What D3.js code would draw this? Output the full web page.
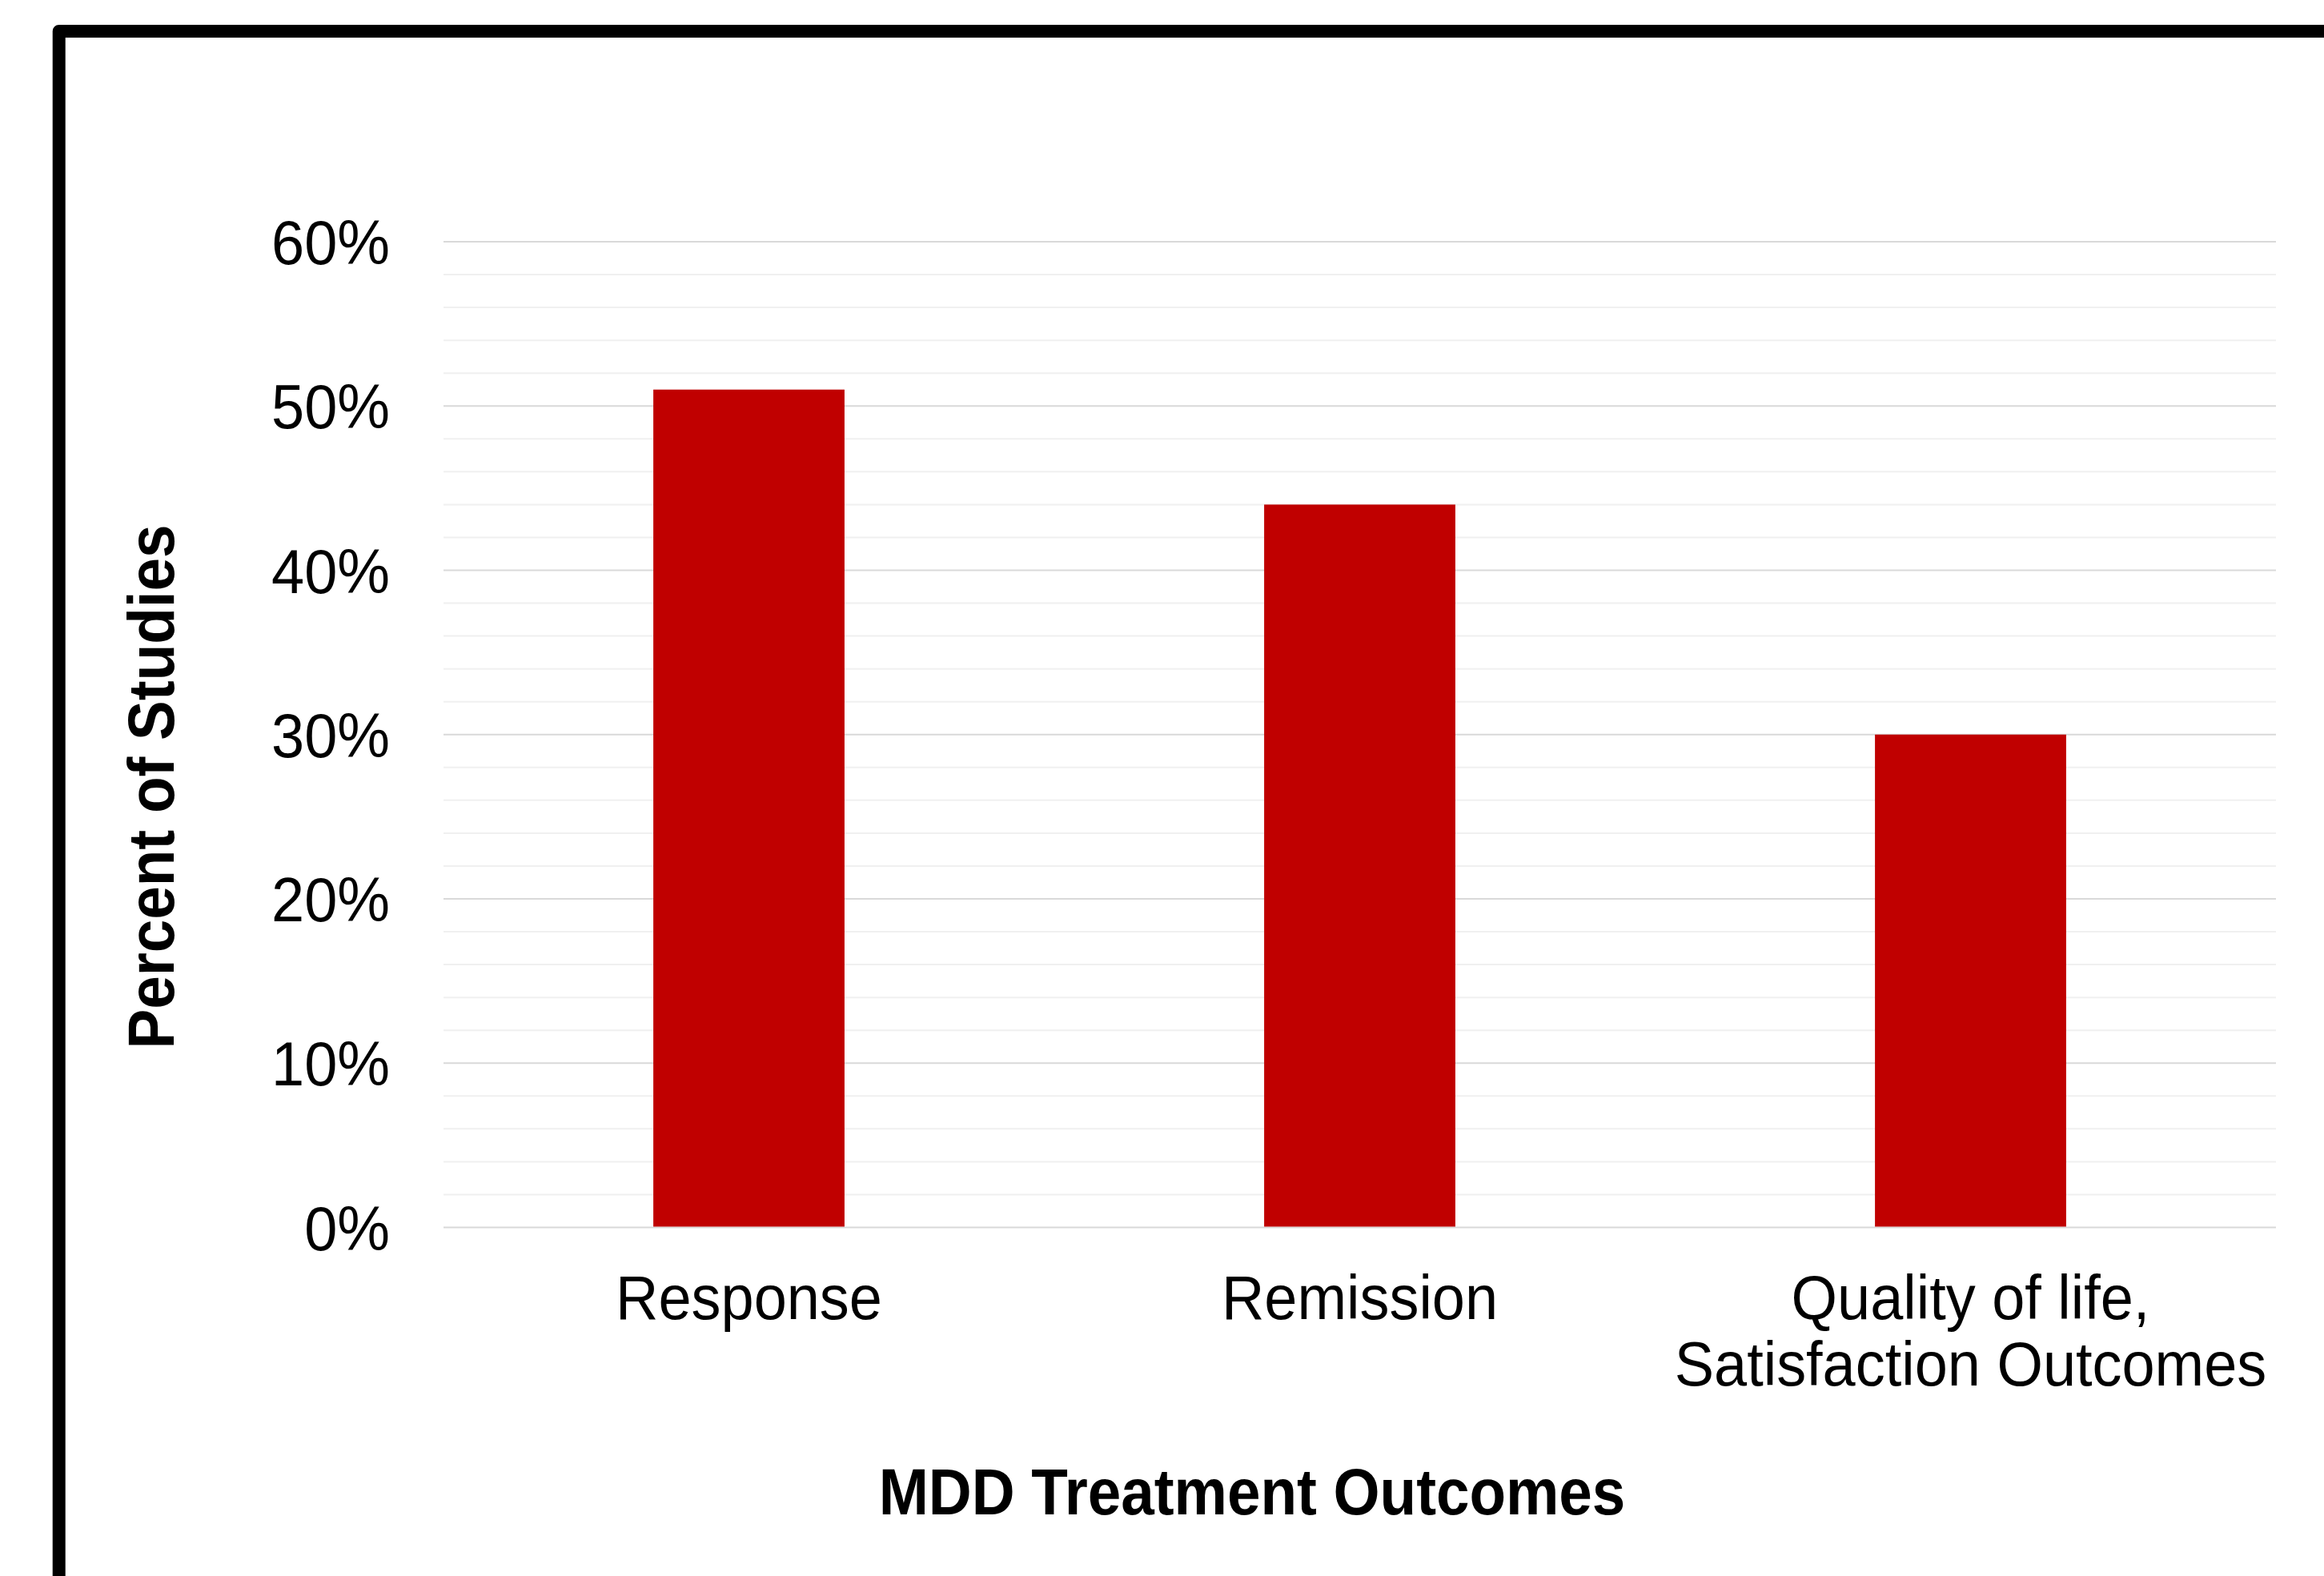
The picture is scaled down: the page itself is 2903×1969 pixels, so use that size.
<!DOCTYPE html>
<html>
<head>
<meta charset="utf-8">
<script src="https://cdn.jsdelivr.net/npm/d3@7"></script>
<style>
  html, body { margin: 0; padding: 0; background: #ffffff; }
  svg { display: block; }
  text { font-family: "Liberation Sans", Arial, sans-serif; fill: #000; }
</style>
</head>
<body>
<svg id="chart" width="2903" height="1969"></svg>
<script>
// Share of studies reporting each MDD treatment outcome
const categories = ["Response", "Remission", "Quality of life,\nSatisfaction Outcomes"];
const percentOfStudies = [0.51, 0.44, 0.30];
const majorTicks = [0, 0.1, 0.2, 0.3, 0.4, 0.5, 0.6];
const minorTicks = d3.range(0, 0.6001, 0.02);
const xTitle = "MDD Treatment Outcomes";
const yTitle = "Percent of Studies";

const W = 2903, H = 1969;
const plot = { left: 554, right: 2843, top: 302, bottom: 1533.5 };
const narrow = 0.96;       // horizontal squeeze of the regular labels
const narrowBold = 0.91;   // horizontal squeeze of the bold titles

const svg = d3.select("#chart");

// Frame around the whole figure (runs past the right and bottom edges)
const frame = d3.path();
frame.moveTo(73.7, H + 50);
frame.lineTo(73.7, 39);
frame.lineTo(W + 50, 39);
svg.append("path")
  .attr("d", frame.toString())
  .attr("fill", "none")
  .attr("stroke", "#000")
  .attr("stroke-width", 16)
  .attr("stroke-linejoin", "round");

const x = d3.scaleBand()
  .domain(categories)
  .range([plot.left, plot.right])
  .paddingInner(0.687)
  .paddingOuter(0.3435);

const y = d3.scaleLinear()
  .domain([0, 0.6])
  .range([plot.bottom, plot.top]);

// Minor gridlines every 2%
svg.append("g").selectAll("line")
  .data(minorTicks.filter(v => !majorTicks.some(m => Math.abs(m - v) < 1e-6)))
  .join("line")
  .attr("x1", plot.left).attr("x2", plot.right)
  .attr("y1", d => y(d)).attr("y2", d => y(d))
  .attr("stroke", "#f0f0f0")
  .attr("stroke-width", 2);

// Major gridlines every 10%
svg.append("g").selectAll("line")
  .data(majorTicks)
  .join("line")
  .attr("x1", plot.left).attr("x2", plot.right)
  .attr("y1", d => y(d)).attr("y2", d => y(d))
  .attr("stroke", "#d9d9d9")
  .attr("stroke-width", 2.2);

// Bars
svg.append("g").selectAll("rect")
  .data(categories.map((c, i) => ({ c, v: percentOfStudies[i] })))
  .join("rect")
  .attr("x", d => x(d.c))
  .attr("width", x.bandwidth())
  .attr("y", d => y(d.v))
  .attr("height", d => y(0) - 1 - y(d.v))
  .attr("fill", "#c00000");

// Y axis tick labels
const yAxis = d3.axisLeft(y)
  .tickValues(majorTicks)
  .tickFormat(d3.format(".0%"))
  .tickSize(0)
  .tickPadding(0);

const yg = svg.append("g")
  .attr("transform", `translate(${plot.left},0)`)
  .call(yAxis);
yg.select(".domain").remove();
yg.selectAll(".tick text")
  .attr("x", 0)
  .attr("dy", "0.36em")
  .attr("font-size", 77)
  .attr("font-family", "Liberation Sans, Arial, sans-serif")
  .attr("fill", "#000")
  .attr("text-anchor", "end")
  .attr("transform", `translate(-67,0) scale(${narrow},1)`);

// X axis category labels (multi-line)
const xg = svg.append("g");
categories.forEach(c => {
  const lines = c.split("\n");
  const t = xg.append("text")
    .attr("text-anchor", "middle")
    .attr("font-size", 77)
    .attr("transform", `translate(${x(c) + x.bandwidth() / 2},1648) scale(${narrow},1)`);
  lines.forEach((ln, i) => {
    t.append("tspan")
      .attr("x", 0)
      .attr("y", i * 83)
      .text(ln);
  });
});

// Axis titles
svg.append("text")
  .attr("text-anchor", "middle")
  .attr("font-size", 82)
  .attr("font-weight", "bold")
  .attr("transform", `translate(1564,1892) scale(${narrowBold},1)`)
  .text(xTitle);

svg.append("text")
  .attr("text-anchor", "middle")
  .attr("font-size", 82)
  .attr("font-weight", "bold")
  .attr("transform", `translate(217,983) rotate(-90) scale(${narrowBold},1)`)
  .text(yTitle);
</script>
</body>
</html>
